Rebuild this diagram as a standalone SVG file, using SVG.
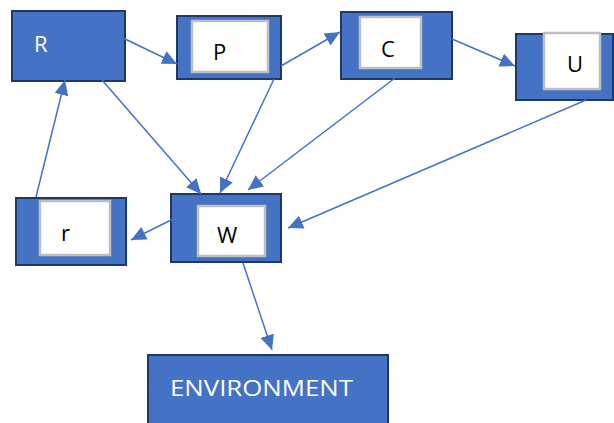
<svg xmlns="http://www.w3.org/2000/svg" width="614" height="423" viewBox="0 0 614 423">
<style>
.box{fill:#4472C4;stroke:#1F3864;stroke-width:2}
.inner{fill:#FFFFFF;stroke:#BFBFBF;stroke-width:2.5}
.lbl{font-family:"Open Sans","Liberation Sans",sans-serif;font-size:22px;fill:#000}
.wlbl{font-family:"Open Sans","Liberation Sans",sans-serif;font-size:22px;fill:#FFFFFF}
.edge{stroke:#4472C4;stroke-width:1.5;fill:none;marker-end:url(#ah)}
</style>
<defs>
<marker id="ah" markerUnits="userSpaceOnUse" markerWidth="16" markerHeight="14" refX="15" refY="7" orient="auto">
<path d="M0,0 L15,7 L0,14 Z" fill="#4472C4"/>
</marker>
</defs>
<rect width="614" height="423" fill="#FFFFFF"/>
<g id="R"><rect class="box" x="12" y="11" width="113" height="70"/><text class="wlbl" x="34" y="52">R</text></g>
<g id="P"><rect class="box" x="177" y="16" width="104" height="63"/><rect class="inner" x="192" y="21" width="76" height="51"/><text class="lbl" x="213" y="60">P</text></g>
<g id="C"><rect class="box" x="341" y="12" width="111" height="67"/><rect class="inner" x="360" y="17" width="61" height="51"/><text class="lbl" x="381" y="57">C</text></g>
<g id="U"><rect class="box" x="516" y="34" width="97" height="66"/><rect class="inner" x="544" y="33" width="56" height="56"/><text class="lbl" x="567" y="72">U</text></g>
<g id="r"><rect class="box" x="16" y="198" width="110" height="67"/><rect class="inner" x="40" y="201" width="70" height="54"/><text class="lbl" x="61" y="241">r</text></g>
<g id="W"><rect class="box" x="171" y="194" width="110" height="68"/><rect class="inner" x="198" y="206" width="67" height="50"/><text class="lbl" x="217" y="243">W</text></g>
<g id="ENVIRONMENT"><rect class="box" x="148" y="355" width="240" height="80"/><text class="wlbl" x="170" y="396" font-size="24" textLength="183" lengthAdjust="spacingAndGlyphs">ENVIRONMENT</text></g>
<g id="connectors">
<line class="edge" x1="123" y1="38" x2="177" y2="64"/>
<line class="edge" x1="281" y1="66" x2="340" y2="32"/>
<line class="edge" x1="452" y1="39" x2="515" y2="66"/>
<line class="edge" x1="102" y1="80" x2="201" y2="194"/>
<line class="edge" x1="274" y1="79" x2="220" y2="193"/>
<line class="edge" x1="395" y1="78" x2="248" y2="190"/>
<line class="edge" x1="586" y1="100" x2="288" y2="228"/>
<line class="edge" x1="173" y1="219" x2="131" y2="240"/>
<line class="edge" x1="36" y1="197" x2="65" y2="80"/>
<line class="edge" x1="243" y1="263" x2="272" y2="350"/>
</g>
</svg>
